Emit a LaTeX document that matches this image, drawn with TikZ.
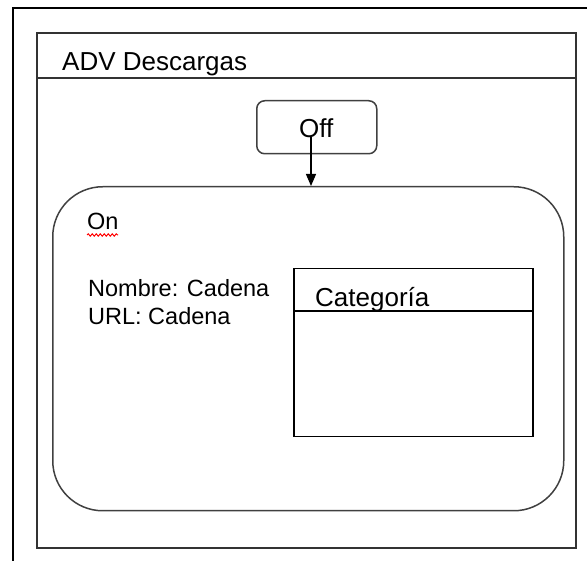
\documentclass[tikz,border=0pt]{standalone}
\usepackage{fontspec}
\setmainfont{Liberation Sans}
\usetikzlibrary{arrows.meta,decorations.pathmorphing}

\tikzset{
  frame/.style={draw=black, line width=2pt},
  panel/.style={draw=black!80, line width=1.8pt, inner sep=0pt, anchor=north west},
  statebox/.style={draw=black!75, line width=1.5pt, inner sep=0pt, anchor=north west},
  classbox/.style={draw=black, line width=1.5pt, inner sep=0pt, anchor=north west},
  lbl/.style={inner sep=0pt, anchor=base west},
  big/.style={font=\fontsize{26}{30}\selectfont},
  small/.style={font=\fontsize{23.5}{28}\selectfont},
  flow/.style={draw=black, line width=1.3pt, -{Triangle[width=10pt,length=12pt]}},
  spell/.style={draw=red, line width=1pt, decorate,
    decoration={snake, segment length=4pt, amplitude=1.2pt}}
}

\begin{document}
\begin{tikzpicture}[x=1pt, y=-1pt]
  \useasboundingbox (0,0) rectangle (587,561);

  % enclosing frame, cut off at the top right
  \draw[frame] (587,8) -- (13,8) -- (13,561);

  % composite state
  \node[panel, minimum width=539pt, minimum height=515pt] (adv) at (36,32) {};
  \draw[line width=1.8pt, draw=black!80] (adv.west |- 0,78) -- (adv.east |- 0,78);
  \node[lbl, big] (advtitle) at (62,71) {ADV Descargas};

  % Off state
  \node[statebox, rounded corners=8pt, minimum width=120pt, minimum height=53pt] (off) at (256,100) {};
  \node[lbl, big] (offlbl) at (299,138) {Off};

  % On state
  \node[statebox, rounded corners=50pt, minimum width=511pt, minimum height=324pt] (on) at (52,186) {};
  \node[lbl, small] (onlbl) at (87,230) {On};
  \draw[spell] (onlbl.base west) ++(0,5) -- ++(31,0);
  \node[lbl, small] (attr1) at (88,297) {Nombre: Cadena};
  \node[lbl, small] (attr2) at (88,325) {URL: Cadena};

  % Categoría class box
  \node[classbox, minimum width=239pt, minimum height=168pt] (cat) at (293,268) {};
  \draw[line width=1.5pt] (cat.west |- 0,311) -- (cat.east |- 0,311);
  \node[lbl, big] (catlbl) at (315,307) {Categoría};

  % transition Off -> On
  \coordinate (tstart) at (311,137);
  \draw[flow] (tstart) -- (tstart |- on.north);
\end{tikzpicture}
\end{document}
